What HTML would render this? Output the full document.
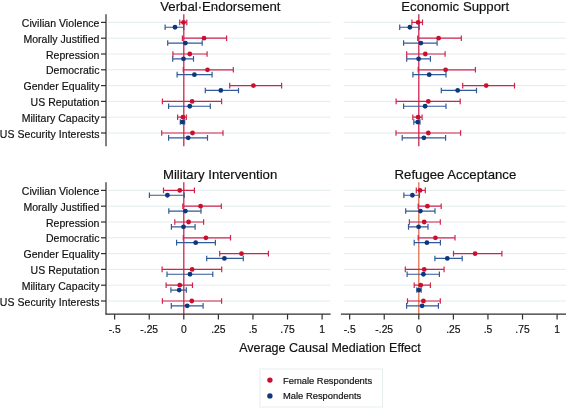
<!DOCTYPE html>
<html><head><meta charset="utf-8"><style>
html,body{margin:0;padding:0;background:#fff;width:566px;height:408px;overflow:hidden}
svg{display:block;will-change:transform;font-family:"Liberation Sans",sans-serif}
text{stroke:#111;stroke-width:0.18px}
.tt{font-size:13.2px;fill:#111}
.yl{font-size:10.5px;letter-spacing:0.05px;fill:#111}
.xl{font-size:10.3px;fill:#111}
.at{font-size:12.5px;fill:#111}
.lg{font-size:9.4px;fill:#111}
</style></head><body>
<svg width="566" height="408" viewBox="0 0 566 408">
<rect width="566" height="408" fill="#fff"/>
<line x1="108" y1="22.40" x2="330.6" y2="22.40" stroke="#e3eced" stroke-width="1"/>
<line x1="108" y1="38.20" x2="330.6" y2="38.20" stroke="#e3eced" stroke-width="1"/>
<line x1="108" y1="54.00" x2="330.6" y2="54.00" stroke="#e3eced" stroke-width="1"/>
<line x1="108" y1="69.80" x2="330.6" y2="69.80" stroke="#e3eced" stroke-width="1"/>
<line x1="108" y1="85.60" x2="330.6" y2="85.60" stroke="#e3eced" stroke-width="1"/>
<line x1="108" y1="101.40" x2="330.6" y2="101.40" stroke="#e3eced" stroke-width="1"/>
<line x1="108" y1="117.20" x2="330.6" y2="117.20" stroke="#e3eced" stroke-width="1"/>
<line x1="108" y1="133.00" x2="330.6" y2="133.00" stroke="#e3eced" stroke-width="1"/>
<line x1="183.8" y1="14.2" x2="183.8" y2="146.2" stroke="#d0244f" stroke-width="1.3"/>
<path d="M165.10 27.25H183.80M165.10 24.45V30.05M183.80 24.45V30.05" stroke="#305a9a" stroke-width="1.2" fill="none"/>
<circle cx="175.00" cy="27.25" r="2.4" fill="#0d377b"/>
<path d="M179.75 22.40H186.80M179.75 19.60V25.20M186.80 19.60V25.20" stroke="#d0244f" stroke-width="1.2" fill="none"/>
<circle cx="183.50" cy="22.40" r="2.4" fill="#c8102e"/>
<path d="M167.70 43.05H202.20M167.70 40.25V45.85M202.20 40.25V45.85" stroke="#305a9a" stroke-width="1.2" fill="none"/>
<circle cx="185.40" cy="43.05" r="2.4" fill="#0d377b"/>
<path d="M182.40 38.20H226.60M182.40 35.40V41.00M226.60 35.40V41.00" stroke="#d0244f" stroke-width="1.2" fill="none"/>
<circle cx="204.00" cy="38.20" r="2.4" fill="#c8102e"/>
<path d="M172.70 58.85H193.50M172.70 56.05V61.65M193.50 56.05V61.65" stroke="#305a9a" stroke-width="1.2" fill="none"/>
<circle cx="183.50" cy="58.85" r="2.4" fill="#0d377b"/>
<path d="M172.90 54.00H207.10M172.90 51.20V56.80M207.10 51.20V56.80" stroke="#d0244f" stroke-width="1.2" fill="none"/>
<circle cx="189.80" cy="54.00" r="2.4" fill="#c8102e"/>
<path d="M177.10 74.65H212.10M177.10 71.85V77.45M212.10 71.85V77.45" stroke="#305a9a" stroke-width="1.2" fill="none"/>
<circle cx="194.40" cy="74.65" r="2.4" fill="#0d377b"/>
<path d="M183.30 69.80H233.30M183.30 67.00V72.60M233.30 67.00V72.60" stroke="#d0244f" stroke-width="1.2" fill="none"/>
<circle cx="207.50" cy="69.80" r="2.4" fill="#c8102e"/>
<path d="M205.30 90.45H238.50M205.30 87.65V93.25M238.50 87.65V93.25" stroke="#305a9a" stroke-width="1.2" fill="none"/>
<circle cx="220.80" cy="90.45" r="2.4" fill="#0d377b"/>
<path d="M229.70 85.60H281.60M229.70 82.80V88.40M281.60 82.80V88.40" stroke="#d0244f" stroke-width="1.2" fill="none"/>
<circle cx="253.40" cy="85.60" r="2.4" fill="#c8102e"/>
<path d="M168.60 106.25H210.30M168.60 103.45V109.05M210.30 103.45V109.05" stroke="#305a9a" stroke-width="1.2" fill="none"/>
<circle cx="189.80" cy="106.25" r="2.4" fill="#0d377b"/>
<path d="M162.40 101.40H221.60M162.40 98.60V104.20M221.60 98.60V104.20" stroke="#d0244f" stroke-width="1.2" fill="none"/>
<circle cx="192.10" cy="101.40" r="2.4" fill="#c8102e"/>
<path d="M180.30 122.05H184.70M180.30 119.25V124.85M184.70 119.25V124.85" stroke="#305a9a" stroke-width="1.2" fill="none"/>
<circle cx="182.40" cy="122.05" r="2.4" fill="#0d377b"/>
<path d="M177.60 117.20H186.30M177.60 114.40V120.00M186.30 114.40V120.00" stroke="#d0244f" stroke-width="1.2" fill="none"/>
<circle cx="182.90" cy="117.20" r="2.4" fill="#c8102e"/>
<path d="M168.60 137.85H207.50M168.60 135.05V140.65M207.50 135.05V140.65" stroke="#305a9a" stroke-width="1.2" fill="none"/>
<circle cx="188.20" cy="137.85" r="2.4" fill="#0d377b"/>
<path d="M161.70 133.00H223.00M161.70 130.20V135.80M223.00 130.20V135.80" stroke="#d0244f" stroke-width="1.2" fill="none"/>
<circle cx="192.50" cy="133.00" r="2.4" fill="#c8102e"/>
<line x1="106" y1="14.2" x2="106" y2="146.2" stroke="#2e2e2e" stroke-width="1.2"/>
<line x1="101" y1="22.40" x2="106" y2="22.40" stroke="#2e2e2e" stroke-width="1.2"/>
<text x="99.5" y="26.90" text-anchor="end" class="yl">Civilian Violence</text>
<line x1="101" y1="38.20" x2="106" y2="38.20" stroke="#2e2e2e" stroke-width="1.2"/>
<text x="99.5" y="42.70" text-anchor="end" class="yl">Morally Justified</text>
<line x1="101" y1="54.00" x2="106" y2="54.00" stroke="#2e2e2e" stroke-width="1.2"/>
<text x="99.5" y="58.50" text-anchor="end" class="yl">Repression</text>
<line x1="101" y1="69.80" x2="106" y2="69.80" stroke="#2e2e2e" stroke-width="1.2"/>
<text x="99.5" y="74.30" text-anchor="end" class="yl">Democratic</text>
<line x1="101" y1="85.60" x2="106" y2="85.60" stroke="#2e2e2e" stroke-width="1.2"/>
<text x="99.5" y="90.10" text-anchor="end" class="yl">Gender Equality</text>
<line x1="101" y1="101.40" x2="106" y2="101.40" stroke="#2e2e2e" stroke-width="1.2"/>
<text x="99.5" y="105.90" text-anchor="end" class="yl">US Reputation</text>
<line x1="101" y1="117.20" x2="106" y2="117.20" stroke="#2e2e2e" stroke-width="1.2"/>
<text x="99.5" y="121.70" text-anchor="end" class="yl">Military Capacity</text>
<line x1="101" y1="133.00" x2="106" y2="133.00" stroke="#2e2e2e" stroke-width="1.2"/>
<text x="99.5" y="137.50" text-anchor="end" class="yl">US Security Interests</text>
<text x="220.4" y="11.3" text-anchor="middle" class="tt">Verbal·Endorsement</text>
<line x1="343.5" y1="22.40" x2="566" y2="22.40" stroke="#e3eced" stroke-width="1"/>
<line x1="343.5" y1="38.20" x2="566" y2="38.20" stroke="#e3eced" stroke-width="1"/>
<line x1="343.5" y1="54.00" x2="566" y2="54.00" stroke="#e3eced" stroke-width="1"/>
<line x1="343.5" y1="69.80" x2="566" y2="69.80" stroke="#e3eced" stroke-width="1"/>
<line x1="343.5" y1="85.60" x2="566" y2="85.60" stroke="#e3eced" stroke-width="1"/>
<line x1="343.5" y1="101.40" x2="566" y2="101.40" stroke="#e3eced" stroke-width="1"/>
<line x1="343.5" y1="117.20" x2="566" y2="117.20" stroke="#e3eced" stroke-width="1"/>
<line x1="343.5" y1="133.00" x2="566" y2="133.00" stroke="#e3eced" stroke-width="1"/>
<line x1="418.8" y1="14.2" x2="418.8" y2="146.2" stroke="#d0244f" stroke-width="1.3"/>
<path d="M399.70 27.25H419.10M399.70 24.45V30.05M419.10 24.45V30.05" stroke="#305a9a" stroke-width="1.2" fill="none"/>
<circle cx="409.90" cy="27.25" r="2.4" fill="#0d377b"/>
<path d="M411.90 22.40H422.50M411.90 19.60V25.20M422.50 19.60V25.20" stroke="#d0244f" stroke-width="1.2" fill="none"/>
<circle cx="418.10" cy="22.40" r="2.4" fill="#c8102e"/>
<path d="M403.60 43.05H437.10M403.60 40.25V45.85M437.10 40.25V45.85" stroke="#305a9a" stroke-width="1.2" fill="none"/>
<circle cx="420.90" cy="43.05" r="2.4" fill="#0d377b"/>
<path d="M417.70 38.20H461.30M417.70 35.40V41.00M461.30 35.40V41.00" stroke="#d0244f" stroke-width="1.2" fill="none"/>
<circle cx="438.60" cy="38.20" r="2.4" fill="#c8102e"/>
<path d="M406.70 58.85H430.40M406.70 56.05V61.65M430.40 56.05V61.65" stroke="#305a9a" stroke-width="1.2" fill="none"/>
<circle cx="418.60" cy="58.85" r="2.4" fill="#0d377b"/>
<path d="M406.70 54.00H445.10M406.70 51.20V56.80M445.10 51.20V56.80" stroke="#d0244f" stroke-width="1.2" fill="none"/>
<circle cx="425.30" cy="54.00" r="2.4" fill="#c8102e"/>
<path d="M412.90 74.65H446.00M412.90 71.85V77.45M446.00 71.85V77.45" stroke="#305a9a" stroke-width="1.2" fill="none"/>
<circle cx="429.20" cy="74.65" r="2.4" fill="#0d377b"/>
<path d="M418.20 69.80H475.40M418.20 67.00V72.60M475.40 67.00V72.60" stroke="#d0244f" stroke-width="1.2" fill="none"/>
<circle cx="445.60" cy="69.80" r="2.4" fill="#c8102e"/>
<path d="M441.30 90.45H476.50M441.30 87.65V93.25M476.50 87.65V93.25" stroke="#305a9a" stroke-width="1.2" fill="none"/>
<circle cx="457.70" cy="90.45" r="2.4" fill="#0d377b"/>
<path d="M462.70 85.60H514.50M462.70 82.80V88.40M514.50 82.80V88.40" stroke="#d0244f" stroke-width="1.2" fill="none"/>
<circle cx="486.20" cy="85.60" r="2.4" fill="#c8102e"/>
<path d="M403.60 106.25H446.00M403.60 103.45V109.05M446.00 103.45V109.05" stroke="#305a9a" stroke-width="1.2" fill="none"/>
<circle cx="425.10" cy="106.25" r="2.4" fill="#0d377b"/>
<path d="M396.10 101.40H460.20M396.10 98.60V104.20M460.20 98.60V104.20" stroke="#d0244f" stroke-width="1.2" fill="none"/>
<circle cx="428.30" cy="101.40" r="2.4" fill="#c8102e"/>
<path d="M413.80 122.05H420.00M413.80 119.25V124.85M420.00 119.25V124.85" stroke="#305a9a" stroke-width="1.2" fill="none"/>
<circle cx="417.70" cy="122.05" r="2.4" fill="#0d377b"/>
<path d="M412.80 117.20H422.10M412.80 114.40V120.00M422.10 114.40V120.00" stroke="#d0244f" stroke-width="1.2" fill="none"/>
<circle cx="418.10" cy="117.20" r="2.4" fill="#c8102e"/>
<path d="M402.20 137.85H445.60M402.20 135.05V140.65M445.60 135.05V140.65" stroke="#305a9a" stroke-width="1.2" fill="none"/>
<circle cx="423.90" cy="137.85" r="2.4" fill="#0d377b"/>
<path d="M396.00 133.00H460.60M396.00 130.20V135.80M460.60 130.20V135.80" stroke="#d0244f" stroke-width="1.2" fill="none"/>
<circle cx="428.30" cy="133.00" r="2.4" fill="#c8102e"/>
<text x="455.2" y="11.3" text-anchor="middle" class="tt">Economic Support</text>
<line x1="108" y1="190.40" x2="330.6" y2="190.40" stroke="#e3eced" stroke-width="1"/>
<line x1="108" y1="206.20" x2="330.6" y2="206.20" stroke="#e3eced" stroke-width="1"/>
<line x1="108" y1="222.00" x2="330.6" y2="222.00" stroke="#e3eced" stroke-width="1"/>
<line x1="108" y1="237.80" x2="330.6" y2="237.80" stroke="#e3eced" stroke-width="1"/>
<line x1="108" y1="253.60" x2="330.6" y2="253.60" stroke="#e3eced" stroke-width="1"/>
<line x1="108" y1="269.40" x2="330.6" y2="269.40" stroke="#e3eced" stroke-width="1"/>
<line x1="108" y1="285.20" x2="330.6" y2="285.20" stroke="#e3eced" stroke-width="1"/>
<line x1="108" y1="301.00" x2="330.6" y2="301.00" stroke="#e3eced" stroke-width="1"/>
<line x1="183.8" y1="182.2" x2="183.8" y2="314.2" stroke="#d0244f" stroke-width="1.3"/>
<path d="M149.40 195.25H184.20M149.40 192.45V198.05M184.20 192.45V198.05" stroke="#305a9a" stroke-width="1.2" fill="none"/>
<circle cx="167.40" cy="195.25" r="2.4" fill="#0d377b"/>
<path d="M163.50 190.40H194.40M163.50 187.60V193.20M194.40 187.60V193.20" stroke="#d0244f" stroke-width="1.2" fill="none"/>
<circle cx="179.75" cy="190.40" r="2.4" fill="#c8102e"/>
<path d="M168.80 211.05H201.00M168.80 208.25V213.85M201.00 208.25V213.85" stroke="#305a9a" stroke-width="1.2" fill="none"/>
<circle cx="185.40" cy="211.05" r="2.4" fill="#0d377b"/>
<path d="M182.80 206.20H221.30M182.80 203.40V209.00M221.30 203.40V209.00" stroke="#d0244f" stroke-width="1.2" fill="none"/>
<circle cx="200.60" cy="206.20" r="2.4" fill="#c8102e"/>
<path d="M171.40 226.85H195.10M171.40 224.05V229.65M195.10 224.05V229.65" stroke="#305a9a" stroke-width="1.2" fill="none"/>
<circle cx="183.50" cy="226.85" r="2.4" fill="#0d377b"/>
<path d="M174.80 222.00H203.60M174.80 219.20V224.80M203.60 219.20V224.80" stroke="#d0244f" stroke-width="1.2" fill="none"/>
<circle cx="188.60" cy="222.00" r="2.4" fill="#c8102e"/>
<path d="M176.60 242.65H215.40M176.60 239.85V245.45M215.40 239.85V245.45" stroke="#305a9a" stroke-width="1.2" fill="none"/>
<circle cx="195.70" cy="242.65" r="2.4" fill="#0d377b"/>
<path d="M183.30 237.80H230.50M183.30 235.00V240.60M230.50 235.00V240.60" stroke="#d0244f" stroke-width="1.2" fill="none"/>
<circle cx="205.90" cy="237.80" r="2.4" fill="#c8102e"/>
<path d="M206.70 258.45H243.30M206.70 255.65V261.25M243.30 255.65V261.25" stroke="#305a9a" stroke-width="1.2" fill="none"/>
<circle cx="224.40" cy="258.45" r="2.4" fill="#0d377b"/>
<path d="M219.70 253.60H268.40M219.70 250.80V256.40M268.40 250.80V256.40" stroke="#d0244f" stroke-width="1.2" fill="none"/>
<circle cx="241.50" cy="253.60" r="2.4" fill="#c8102e"/>
<path d="M167.00 274.25H212.80M167.00 271.45V277.05M212.80 271.45V277.05" stroke="#305a9a" stroke-width="1.2" fill="none"/>
<circle cx="190.00" cy="274.25" r="2.4" fill="#0d377b"/>
<path d="M162.10 269.40H221.70M162.10 266.60V272.20M221.70 266.60V272.20" stroke="#d0244f" stroke-width="1.2" fill="none"/>
<circle cx="192.10" cy="269.40" r="2.4" fill="#c8102e"/>
<path d="M170.90 290.05H186.30M170.90 287.25V292.85M186.30 287.25V292.85" stroke="#305a9a" stroke-width="1.2" fill="none"/>
<circle cx="179.20" cy="290.05" r="2.4" fill="#0d377b"/>
<path d="M166.10 285.20H192.50M166.10 282.40V288.00M192.50 282.40V288.00" stroke="#d0244f" stroke-width="1.2" fill="none"/>
<circle cx="179.75" cy="285.20" r="2.4" fill="#c8102e"/>
<path d="M171.30 305.85H203.10M171.30 303.05V308.65M203.10 303.05V308.65" stroke="#305a9a" stroke-width="1.2" fill="none"/>
<circle cx="187.20" cy="305.85" r="2.4" fill="#0d377b"/>
<path d="M162.40 301.00H221.60M162.40 298.20V303.80M221.60 298.20V303.80" stroke="#d0244f" stroke-width="1.2" fill="none"/>
<circle cx="191.80" cy="301.00" r="2.4" fill="#c8102e"/>
<line x1="106" y1="182.2" x2="106" y2="314.2" stroke="#2e2e2e" stroke-width="1.2"/>
<line x1="101" y1="190.40" x2="106" y2="190.40" stroke="#2e2e2e" stroke-width="1.2"/>
<text x="99.5" y="194.90" text-anchor="end" class="yl">Civilian Violence</text>
<line x1="101" y1="206.20" x2="106" y2="206.20" stroke="#2e2e2e" stroke-width="1.2"/>
<text x="99.5" y="210.70" text-anchor="end" class="yl">Morally Justified</text>
<line x1="101" y1="222.00" x2="106" y2="222.00" stroke="#2e2e2e" stroke-width="1.2"/>
<text x="99.5" y="226.50" text-anchor="end" class="yl">Repression</text>
<line x1="101" y1="237.80" x2="106" y2="237.80" stroke="#2e2e2e" stroke-width="1.2"/>
<text x="99.5" y="242.30" text-anchor="end" class="yl">Democratic</text>
<line x1="101" y1="253.60" x2="106" y2="253.60" stroke="#2e2e2e" stroke-width="1.2"/>
<text x="99.5" y="258.10" text-anchor="end" class="yl">Gender Equality</text>
<line x1="101" y1="269.40" x2="106" y2="269.40" stroke="#2e2e2e" stroke-width="1.2"/>
<text x="99.5" y="273.90" text-anchor="end" class="yl">US Reputation</text>
<line x1="101" y1="285.20" x2="106" y2="285.20" stroke="#2e2e2e" stroke-width="1.2"/>
<text x="99.5" y="289.70" text-anchor="end" class="yl">Military Capacity</text>
<line x1="101" y1="301.00" x2="106" y2="301.00" stroke="#2e2e2e" stroke-width="1.2"/>
<text x="99.5" y="305.50" text-anchor="end" class="yl">US Security Interests</text>
<line x1="105.4" y1="314.2" x2="330.6" y2="314.2" stroke="#2e2e2e" stroke-width="1.2"/>
<line x1="114.65" y1="314.2" x2="114.65" y2="319.5" stroke="#2e2e2e" stroke-width="1.2"/>
<text x="114.65" y="333.2" text-anchor="middle" class="xl">-.5</text>
<line x1="149.23" y1="314.2" x2="149.23" y2="319.5" stroke="#2e2e2e" stroke-width="1.2"/>
<text x="149.23" y="333.2" text-anchor="middle" class="xl">-.25</text>
<line x1="183.80" y1="314.2" x2="183.80" y2="319.5" stroke="#2e2e2e" stroke-width="1.2"/>
<text x="183.80" y="333.2" text-anchor="middle" class="xl">0</text>
<line x1="218.38" y1="314.2" x2="218.38" y2="319.5" stroke="#2e2e2e" stroke-width="1.2"/>
<text x="218.38" y="333.2" text-anchor="middle" class="xl">.25</text>
<line x1="252.95" y1="314.2" x2="252.95" y2="319.5" stroke="#2e2e2e" stroke-width="1.2"/>
<text x="252.95" y="333.2" text-anchor="middle" class="xl">.5</text>
<line x1="287.53" y1="314.2" x2="287.53" y2="319.5" stroke="#2e2e2e" stroke-width="1.2"/>
<text x="287.53" y="333.2" text-anchor="middle" class="xl">.75</text>
<line x1="322.10" y1="314.2" x2="322.10" y2="319.5" stroke="#2e2e2e" stroke-width="1.2"/>
<text x="322.10" y="333.2" text-anchor="middle" class="xl">1</text>
<text x="220.1" y="179.3" text-anchor="middle" class="tt">Military Intervention</text>
<line x1="343.5" y1="190.40" x2="566" y2="190.40" stroke="#e3eced" stroke-width="1"/>
<line x1="343.5" y1="206.20" x2="566" y2="206.20" stroke="#e3eced" stroke-width="1"/>
<line x1="343.5" y1="222.00" x2="566" y2="222.00" stroke="#e3eced" stroke-width="1"/>
<line x1="343.5" y1="237.80" x2="566" y2="237.80" stroke="#e3eced" stroke-width="1"/>
<line x1="343.5" y1="253.60" x2="566" y2="253.60" stroke="#e3eced" stroke-width="1"/>
<line x1="343.5" y1="269.40" x2="566" y2="269.40" stroke="#e3eced" stroke-width="1"/>
<line x1="343.5" y1="285.20" x2="566" y2="285.20" stroke="#e3eced" stroke-width="1"/>
<line x1="343.5" y1="301.00" x2="566" y2="301.00" stroke="#e3eced" stroke-width="1"/>
<line x1="418.8" y1="182.2" x2="418.8" y2="314.2" stroke="#e0704a" stroke-width="1.3"/>
<path d="M403.90 195.25H419.50M403.90 192.45V198.05M419.50 192.45V198.05" stroke="#305a9a" stroke-width="1.2" fill="none"/>
<circle cx="412.40" cy="195.25" r="2.4" fill="#0d377b"/>
<path d="M416.30 190.40H425.30M416.30 187.60V193.20M425.30 187.60V193.20" stroke="#d0244f" stroke-width="1.2" fill="none"/>
<circle cx="420.00" cy="190.40" r="2.4" fill="#c8102e"/>
<path d="M405.70 211.05H435.00M405.70 208.25V213.85M435.00 208.25V213.85" stroke="#305a9a" stroke-width="1.2" fill="none"/>
<circle cx="420.40" cy="211.05" r="2.4" fill="#0d377b"/>
<path d="M418.20 206.20H441.20M418.20 203.40V209.00M441.20 203.40V209.00" stroke="#d0244f" stroke-width="1.2" fill="none"/>
<circle cx="427.40" cy="206.20" r="2.4" fill="#c8102e"/>
<path d="M408.50 226.85H428.00M408.50 224.05V229.65M428.00 224.05V229.65" stroke="#305a9a" stroke-width="1.2" fill="none"/>
<circle cx="418.60" cy="226.85" r="2.4" fill="#0d377b"/>
<path d="M409.40 222.00H440.30M409.40 219.20V224.80M440.30 219.20V224.80" stroke="#d0244f" stroke-width="1.2" fill="none"/>
<circle cx="424.20" cy="222.00" r="2.4" fill="#c8102e"/>
<path d="M414.20 242.65H440.40M414.20 239.85V245.45M440.40 239.85V245.45" stroke="#305a9a" stroke-width="1.2" fill="none"/>
<circle cx="426.90" cy="242.65" r="2.4" fill="#0d377b"/>
<path d="M418.20 237.80H455.00M418.20 235.00V240.60M455.00 235.00V240.60" stroke="#d0244f" stroke-width="1.2" fill="none"/>
<circle cx="435.40" cy="237.80" r="2.4" fill="#c8102e"/>
<path d="M434.90 258.45H462.20M434.90 255.65V261.25M462.20 255.65V261.25" stroke="#305a9a" stroke-width="1.2" fill="none"/>
<circle cx="447.30" cy="258.45" r="2.4" fill="#0d377b"/>
<path d="M453.50 253.60H501.90M453.50 250.80V256.40M501.90 250.80V256.40" stroke="#d0244f" stroke-width="1.2" fill="none"/>
<circle cx="475.10" cy="253.60" r="2.4" fill="#c8102e"/>
<path d="M407.10 274.25H439.40M407.10 271.45V277.05M439.40 271.45V277.05" stroke="#305a9a" stroke-width="1.2" fill="none"/>
<circle cx="423.40" cy="274.25" r="2.4" fill="#0d377b"/>
<path d="M405.30 269.40H444.10M405.30 266.60V272.20M444.10 266.60V272.20" stroke="#d0244f" stroke-width="1.2" fill="none"/>
<circle cx="424.20" cy="269.40" r="2.4" fill="#c8102e"/>
<path d="M416.80 290.05H421.20M416.80 287.25V292.85M421.20 287.25V292.85" stroke="#305a9a" stroke-width="1.2" fill="none"/>
<circle cx="418.90" cy="290.05" r="2.4" fill="#0d377b"/>
<path d="M414.20 285.20H430.40M414.20 282.40V288.00M430.40 282.40V288.00" stroke="#d0244f" stroke-width="1.2" fill="none"/>
<circle cx="420.70" cy="285.20" r="2.4" fill="#c8102e"/>
<path d="M406.60 305.85H438.40M406.60 303.05V308.65M438.40 303.05V308.65" stroke="#305a9a" stroke-width="1.2" fill="none"/>
<circle cx="422.10" cy="305.85" r="2.4" fill="#0d377b"/>
<path d="M407.50 301.00H440.30M407.50 298.20V303.80M440.30 298.20V303.80" stroke="#d0244f" stroke-width="1.2" fill="none"/>
<circle cx="423.40" cy="301.00" r="2.4" fill="#c8102e"/>
<line x1="340.9" y1="314.2" x2="566" y2="314.2" stroke="#2e2e2e" stroke-width="1.2"/>
<line x1="349.65" y1="314.2" x2="349.65" y2="319.5" stroke="#2e2e2e" stroke-width="1.2"/>
<text x="349.65" y="333.2" text-anchor="middle" class="xl">-.5</text>
<line x1="384.23" y1="314.2" x2="384.23" y2="319.5" stroke="#2e2e2e" stroke-width="1.2"/>
<text x="384.23" y="333.2" text-anchor="middle" class="xl">-.25</text>
<line x1="418.80" y1="314.2" x2="418.80" y2="319.5" stroke="#2e2e2e" stroke-width="1.2"/>
<text x="418.80" y="333.2" text-anchor="middle" class="xl">0</text>
<line x1="453.38" y1="314.2" x2="453.38" y2="319.5" stroke="#2e2e2e" stroke-width="1.2"/>
<text x="453.38" y="333.2" text-anchor="middle" class="xl">.25</text>
<line x1="487.95" y1="314.2" x2="487.95" y2="319.5" stroke="#2e2e2e" stroke-width="1.2"/>
<text x="487.95" y="333.2" text-anchor="middle" class="xl">.5</text>
<line x1="522.52" y1="314.2" x2="522.52" y2="319.5" stroke="#2e2e2e" stroke-width="1.2"/>
<text x="522.52" y="333.2" text-anchor="middle" class="xl">.75</text>
<line x1="557.10" y1="314.2" x2="557.10" y2="319.5" stroke="#2e2e2e" stroke-width="1.2"/>
<text x="557.10" y="333.2" text-anchor="middle" class="xl">1</text>
<text x="455.4" y="179.3" text-anchor="middle" class="tt">Refugee Acceptance</text>
<circle cx="214.6" cy="8.2" r="0.75" fill="#444"/>
<text x="239.2" y="352.1" class="at">Average Causal Mediation Effect</text>
<rect x="260" y="369" width="122.6" height="38" fill="#fff" stroke="#e6eef0" stroke-width="1"/>
<circle cx="269.9" cy="380.1" r="2.7" fill="#c8102e"/>
<circle cx="269.9" cy="395.9" r="2.7" fill="#0d377b"/>
<text x="283" y="384.2" class="lg">Female Respondents</text>
<text x="283" y="399.4" class="lg">Male Respondents</text>
</svg>
</body></html>
